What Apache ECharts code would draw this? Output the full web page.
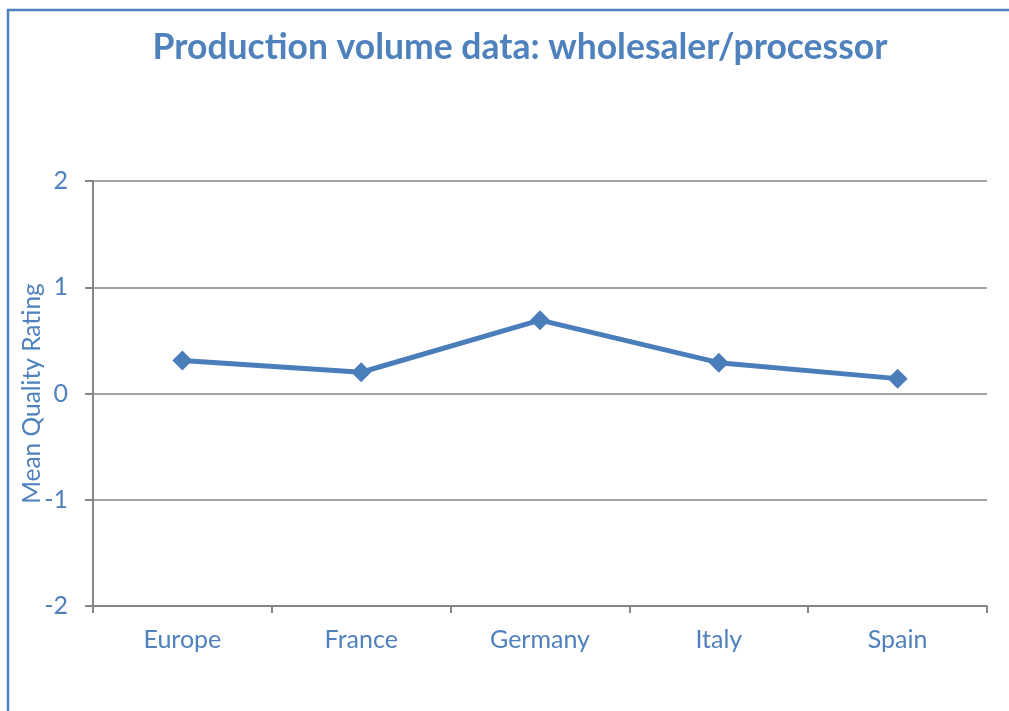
<!DOCTYPE html>
<html>
<head>
<meta charset="utf-8">
<script src="https://cdn.jsdelivr.net/npm/echarts@6/dist/echarts.min.js"></script>
<style>
html, body { margin: 0; padding: 0; background: #fff; overflow: hidden; }
#chart { width: 1009px; height: 711px; }
</style>
</head>
<body>
<div id="chart"></div>
<script>
// data
var countries = ["Europe", "France", "Germany", "Italy", "Spain"];
var meanRating = [0.31, 0.20, 0.69, 0.29, 0.14];
var yTicks = { min: -2, max: 2, step: 1 };

var blue = "#4f81bd";
var grey = "#868686";
var font = "Lato";

var myChart = echarts.init(document.getElementById("chart"));
var option = {
  backgroundColor: "#fff",
  animation: false,
  title: {
    text: "Production volume data: wholesaler/processor",
    left: 515,
    textAlign: "center",
    top: 25,
    textStyle: {
      color: blue,
      fontFamily: font,
      fontWeight: "bold",
      fontSize: 35.5
    }
  },
  // the blue frame, only its left and top edges fall inside the picture
  graphic: [{
    type: "line",
    shape: { x1: 8, y1: 9, x2: 8, y2: 711 },
    style: { stroke: blue, lineWidth: 2.5 },
    silent: true
  }, {
    type: "line",
    shape: { x1: 7, y1: 10, x2: 1009, y2: 10 },
    style: { stroke: blue, lineWidth: 2.5 },
    silent: true
  }],
  grid: {
    left: 93,
    right: 22,
    top: 181,
    bottom: 105
  },
  xAxis: {
    type: "category",
    data: countries,
    boundaryGap: true,
    axisLine: { onZero: false, lineStyle: { color: grey, width: 2 } },
    axisTick: { show: true, length: 7, lineStyle: { color: grey, width: 2 } },
    axisLabel: {
      color: blue,
      fontFamily: font,
      fontSize: 25,
      margin: 21
    },
    splitLine: { show: false }
  },
  yAxis: {
    type: "value",
    min: yTicks.min,
    max: yTicks.max,
    interval: yTicks.step,
    name: "Mean Quality Rating",
    nameLocation: "middle",
    nameRotate: 90,
    nameGap: 48,
    nameMoveOverlap: false,
    nameTextStyle: {
      color: blue,
      fontFamily: font,
      fontSize: 24.5
    },
    axisLine: { show: true, lineStyle: { color: grey, width: 2 } },
    axisTick: { show: true, length: 8, lineStyle: { color: grey, width: 2 } },
    axisLabel: {
      color: blue,
      fontFamily: font,
      fontSize: 25,
      margin: 25
    },
    splitLine: { show: true, lineStyle: { color: grey, width: 1.5 } }
  },
  series: [{
    name: "Mean Quality Rating",
    type: "line",
    data: meanRating,
    symbol: "diamond",
    symbolSize: 20,
    itemStyle: { color: "#4a7ebb" },
    lineStyle: { color: "#4a7ebb", width: 5 },
    z: 5
  }]
};
myChart.setOption(option);
</script>
</body>
</html>
